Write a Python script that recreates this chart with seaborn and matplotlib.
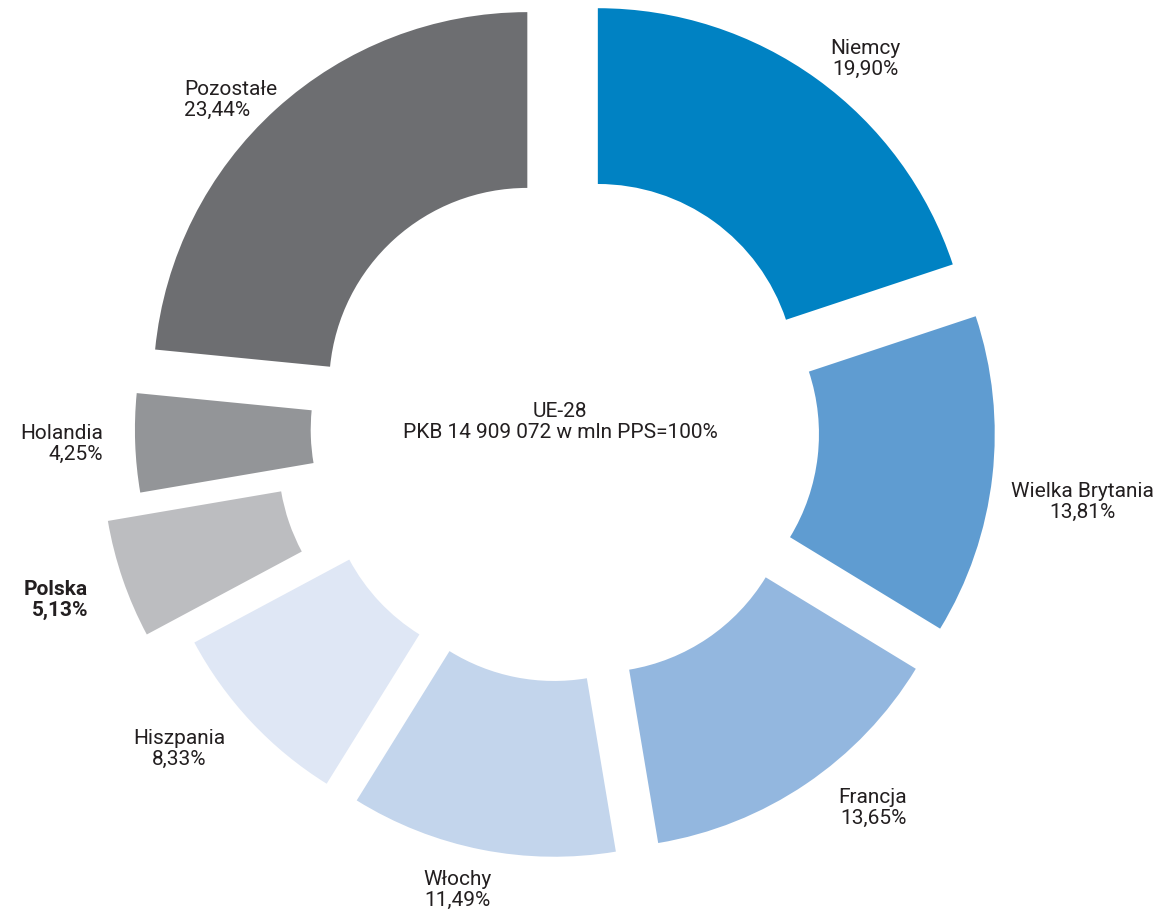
import numpy as np
import seaborn as sns
import matplotlib.pyplot as plt

# udział w PKB UE-28 (PPS), kolejność zgodnie z ruchem wskazówek zegara od góry
countries = ["Niemcy", "Wielka Brytania", "Francja", "Włochy",
             "Hiszpania", "Polska", "Holandia", "Pozostałe"]
shares = [19.90, 13.81, 13.65, 11.49, 8.33, 5.13, 4.25, 23.44]
share_labels = ["19,90%", "13,81%", "13,65%", "11,49%",
                "8,33%", "5,13%", "4,25%", "23,44%"]
center_text = "UE-28\nPKB 14 909 072 w mln PPS=100%"

colors = sns.color_palette(["#0082C3", "#5F9CD1", "#93B7DF", "#C3D5EC",
                            "#DFE7F5", "#BCBDC0", "#939598", "#6D6E71"])
explode = [0.25 if c == "Polska" else 0.15 for c in countries]

sns.set_style("white")
plt.rcParams['font.family'] = ['Roboto', 'DejaVu Sans']
text_color = "#231F20"

W, H = 1172, 917
cx, cy, R = 565, 427.7, 374.0

fig = plt.figure(figsize=(W / 100, H / 100), dpi=100)
ax = fig.add_axes([0, 0, 1, 1])
ax.pie(shares, colors=colors, explode=explode, startangle=90,
       counterclock=False, radius=1.0,
       wedgeprops=dict(width=0.47, linewidth=0))
ax.set_xlim(-cx / R, (W - cx) / R)
ax.set_ylim((cy - H) / R, cy / R)
ax.set_aspect("auto")
ax.axis("off")


def to_data(px, py):
    return (px - cx) / R, (cy - py) / R


# pozycje etykiet w pikselach (x, y środka, wyrównanie)
label_pos = [(865, 59, "center"), (1082, 502, "center"), (907, 808, "right"),
             (457, 890, "center"), (179, 749, "center"), (88, 600, "right"),
             (103, 444, "right"), (184, 100, "left")]

for name, lab, (px, py, ha) in zip(countries, share_labels, label_pos):
    x, y = to_data(px, py)
    ax.text(x, y, f"{name}\n{lab}", ha=ha, va="center", multialignment=ha,
            fontsize=15, linespacing=1.1, color=text_color,
            fontweight="bold" if name == "Polska" else "normal")

x, y = to_data(560, 422)
ax.text(x, y, center_text, ha="center", va="center", fontsize=15,
        linespacing=1.1, color=text_color)

plt.savefig("out.png", dpi=100)
